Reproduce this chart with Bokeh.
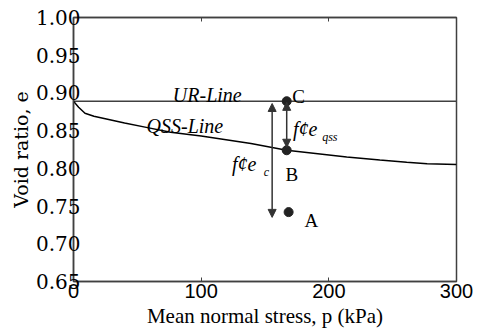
from bokeh.plotting import figure
from bokeh.models import Range1d, LinearAxis, FixedTicker, Arrow, NormalHead, PrintfTickFormatter
from bokeh.core.properties import value
from bokeh.embed import file_html
from bokeh.resources import INLINE

# ---- data ----
p_qss = [0, 4, 9, 16, 24, 40, 58, 76, 100, 139, 167, 214, 240, 261, 277, 300]
e_qss = [0.889, 0.881, 0.873, 0.869, 0.866, 0.860, 0.854, 0.848, 0.843, 0.833,
         0.824, 0.815, 0.811, 0.808, 0.806, 0.805]
p_ur = [0, 300]
e_ur = [0.889, 0.889]

pt_names = ["C", "B", "A"]
pt_p = [167, 167, 168.5]
pt_e = [0.889, 0.824, 0.742]

x_ticks = [0, 100, 200, 300]
y_ticks = [0.65, 0.70, 0.75, 0.80, 0.85, 0.90, 0.95, 1.00]

arrow_ec_p = 155.6
arrow_ec_e = [0.886, 0.735]
arrow_qss_p = 167
arrow_qss_e = [0.8875, 0.828]

line_names = ["UR-Line", "QSS-Line"]
line_lab_p = [77.8, 57.2]
line_lab_e = [0.8966, 0.8568]

pt_lab_p = [171.3, 166.1, 181.0]
pt_lab_e = [0.8957, 0.7915, 0.7309]

fe_text = ["f\u00a2e", "f\u00a2e"]
fe_p = [124.1, 171.9]
fe_e = [0.806, 0.8524]
sub_text = ["c", "qss"]
sub_p = [149.1, 194.8]
sub_e = [0.795, 0.8422]

AX = "#404040"
SERIF = "DejaVu Serif"
TIMES = "Liberation Serif"

p = figure(width=483, height=331, output_backend="svg", toolbar_location=None,
           x_range=Range1d(0, 300), y_range=Range1d(0.65, 1.0),
           min_border_left=73, min_border_right=27, min_border_top=17, min_border_bottom=50)
p.grid.visible = False
p.outline_line_color = AX
p.outline_line_width = 1.5
p.background_fill_color = "white"

# bottom axis
xa = p.xaxis[0]
xa.ticker = FixedTicker(ticks=x_ticks)
xa.axis_label = "Mean normal stress, p (kPa)"
xa.axis_label_text_font = TIMES
xa.axis_label_text_font_style = "normal"
xa.axis_label_text_font_size = "21px"
xa.axis_label_text_color = "black"
xa.axis_label_standoff = 3
xa.major_label_text_font = "Liberation Sans"
xa.major_label_text_font_size = "20px"
xa.major_label_text_color = "black"
xa.major_label_standoff = 2
xa.major_tick_in = 4
xa.major_tick_out = 0
xa.minor_tick_in = 0
xa.minor_tick_out = 0
xa.axis_line_color = AX
xa.axis_line_width = 1.5
xa.major_tick_line_color = AX

# left axis
ya = p.yaxis[0]
ya.ticker = FixedTicker(ticks=y_ticks)
ya.formatter = PrintfTickFormatter(format="%.2f")
ya.axis_label = "Void ratio, e"
ya.axis_label_text_font = SERIF
ya.axis_label_text_font_style = "normal"
ya.axis_label_text_font_size = "19px"
ya.axis_label_text_color = "black"
ya.axis_label_standoff = 1
ya.major_label_text_font = SERIF
ya.major_label_text_font_size = "20px"
ya.major_label_text_color = "black"
ya.major_label_standoff = -7
ya.major_tick_in = 0
ya.major_tick_out = 0
ya.minor_tick_in = 0
ya.minor_tick_out = 0
ya.axis_line_color = AX
ya.axis_line_width = 1.5

# top axis: only inside tick marks (minor ticks carry no labels)
ta = LinearAxis(ticker=FixedTicker(ticks=[], minor_ticks=x_ticks),
                major_tick_in=0, major_tick_out=0,
                minor_tick_in=4, minor_tick_out=0, axis_line_color=AX, axis_line_width=1.5,
                minor_tick_line_color=AX, major_label_standoff=0)
p.add_layout(ta, "above")

# lines
p.line(p_ur, e_ur, line_color=AX, line_width=1.5)
p.line(p_qss, e_qss, line_color="black", line_width=1.5)

# points
p.scatter(pt_p, pt_e, size=9, color="#222222")

# arrows
head = dict(size=8, fill_color="#333333", line_color="#333333")
p.add_layout(Arrow(start=NormalHead(**head), end=NormalHead(**head),
                   x_start=arrow_ec_p, y_start=arrow_ec_e[0], x_end=arrow_ec_p, y_end=arrow_ec_e[1],
                   line_color="#333333", line_width=1.5))
p.add_layout(Arrow(start=NormalHead(**head), end=NormalHead(**head),
                   x_start=arrow_qss_p, y_start=arrow_qss_e[0], x_end=arrow_qss_p, y_end=arrow_qss_e[1],
                   line_color="#333333", line_width=1.5))

# texts
p.text(line_lab_p, line_lab_e, text=line_names, text_font=value(TIMES), text_font_style="italic",
       text_font_size="20px", text_align="left", text_baseline="alphabetic", text_color="black")
p.text(pt_lab_p, pt_lab_e, text=pt_names, text_font=value(TIMES),
       text_font_size="19px", text_align="left", text_baseline="alphabetic", text_color="black")
p.text(fe_p, fe_e, text=fe_text, text_font=value(TIMES), text_font_style="italic",
       text_font_size="20px", text_align="left", text_baseline="alphabetic", text_color="black")
p.text(sub_p, sub_e, text=sub_text, text_font=value(TIMES), text_font_style="italic",
       text_font_size="12px", text_align="left", text_baseline="alphabetic", text_color="black")

open("out.html", "w").write(file_html(p, INLINE))
